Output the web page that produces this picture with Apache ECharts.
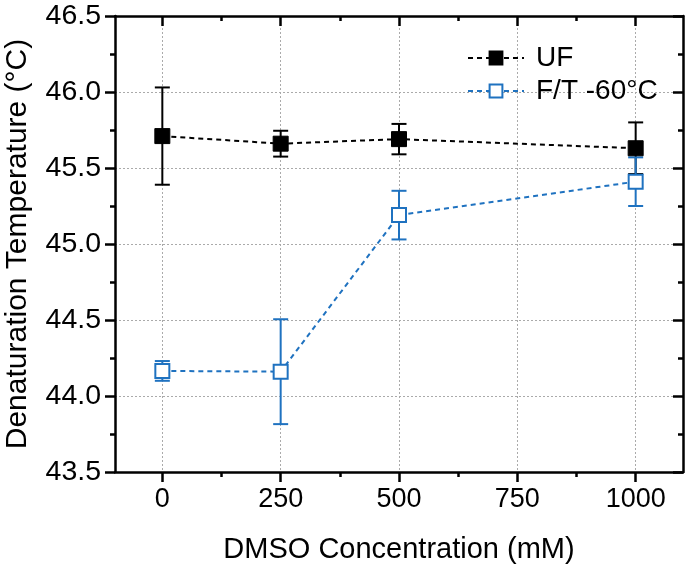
<!DOCTYPE html>
<html><head><meta charset="utf-8">
<script src="https://cdn.jsdelivr.net/npm/echarts@6/dist/echarts.min.js"></script>
<style>html,body{margin:0;padding:0;background:#fff}#c{width:690px;height:566px}</style>
</head><body><div id="c"></div>
<script>
var concentrations = [0, 250, 500, 750, 1000];
var xMajorTicks = [0, 250, 500, 750, 1000];
var xMinorTicks = [125, 375, 625, 875];
var dataX = [0, 250, 500, 1000];
var ufValues = [45.71, 45.66, 45.69, 45.63];
var ufErrors = [0.32, 0.085, 0.10, 0.17];
var ftValues = [44.165, 44.16, 45.19, 45.41];
var ftErrors = [0.065, 0.345, 0.16, 0.16];
var seriesNames = ['UF', 'F/T -60°C'];
var xTitle = 'DMSO Concentration (mM)';
var yTitle = 'Denaturation Temperature (°C)';

var FONT = 'Liberation Sans, Arial, sans-serif';
var BLUE = '#1f72c0';

function pairs(xs, ys){ return xs.map(function(x,i){return [x, ys[i]];}); }
function errData(xs, ys, es){ return xs.map(function(x,i){return [x, ys[i]-es[i], ys[i]+es[i]];}); }
function errSeries(data, color){
  return {
    type:'custom', xAxisIndex:0, yAxisIndex:0, data:data, z:1, silent:true,
    renderItem:function(params, api){
      var lo = api.coord([api.value(0), api.value(1)]);
      var hi = api.coord([api.value(0), api.value(2)]);
      var w = 7.5;
      var st = {stroke:color, lineWidth:2};
      return {type:'group', children:[
        {type:'line', shape:{x1:lo[0],y1:lo[1],x2:hi[0],y2:hi[1]}, style:st},
        {type:'line', shape:{x1:lo[0]-w,y1:lo[1],x2:lo[0]+w,y2:lo[1]}, style:st},
        {type:'line', shape:{x1:hi[0]-w,y1:hi[1],x2:hi[0]+w,y2:hi[1]}, style:st}
      ]};
    }
  };
}

var axisLine = {show:true, onZero:false, lineStyle:{color:'#000', width:2.5}};
var chart = echarts.init(document.getElementById('c'));
chart.setOption({
  animation:false,
  backgroundColor:'#fff',
  grid:{left:115, right:7, top:16, bottom:94, containLabel:false, outerBoundsMode:'none'},
  legend:{
    orient:'vertical', left:462, top:39, itemWidth:56, itemHeight:16, itemGap:5,
    data:seriesNames,
    textStyle:{fontFamily:FONT, fontSize:28, color:'#000', padding:[0,0,0,7]}
  },
  xAxis:[
    {type:'value', min:-100, max:1100, position:'bottom',
     name:xTitle, nameLocation:'middle', nameGap:63,
     nameTextStyle:{fontFamily:FONT, fontSize:29, color:'#000'},
     axisLine:axisLine,
     axisTick:{show:true, inside:false, length:10, customValues:xMajorTicks, lineStyle:{color:'#000', width:2.5}},
     axisLabel:{show:true, margin:14, customValues:xMajorTicks, fontFamily:FONT, fontSize:27, color:'#000',
       formatter:function(v){return String(v);}},
     splitLine:{show:true, lineStyle:{color:'#aaa', width:1, type:[2,2]}}},
    {type:'value', min:-100, max:1100, position:'bottom',
     axisLine:{show:false, onZero:false},
     axisTick:{show:true, inside:false, length:5, customValues:xMinorTicks, lineStyle:{color:'#000', width:2.5}},
     axisLabel:{show:false}, splitLine:{show:false}},
    {type:'value', min:-100, max:1100, position:'top',
     axisLine:axisLine,
     axisTick:{show:true, inside:true, length:10, customValues:xMajorTicks, lineStyle:{color:'#000', width:2.5}},
     axisLabel:{show:false}, splitLine:{show:false}},
    {type:'value', min:-100, max:1100, position:'top',
     axisLine:{show:false, onZero:false},
     axisTick:{show:true, inside:true, length:5, customValues:xMinorTicks, lineStyle:{color:'#000', width:2.5}},
     axisLabel:{show:false}, splitLine:{show:false}}
  ],
  yAxis:[
    {type:'value', min:43.5, max:46.5, interval:0.5, position:'left',
     name:yTitle, nameLocation:'middle', nameGap:82,
     nameTextStyle:{fontFamily:FONT, fontSize:30, color:'#000'},
     axisLine:axisLine,
     axisTick:{show:true, inside:false, length:10, lineStyle:{color:'#000', width:2.5}},
     minorTick:{show:true, splitNumber:2, length:5, lineStyle:{color:'#000', width:2.5}},
     axisLabel:{show:true, margin:14, fontFamily:FONT, fontSize:28.5, color:'#000',
       formatter:function(v){return v.toFixed(1);}},
     splitLine:{show:true, lineStyle:{color:'#aaa', width:1, type:[2,2]}}},
    {type:'value', min:43.5, max:46.5, interval:0.5, position:'right',
     axisLine:axisLine,
     axisTick:{show:true, inside:true, length:10, lineStyle:{color:'#000', width:2.5}},
     minorTick:{show:true, splitNumber:2, length:5, lineStyle:{color:'#000', width:2.5}},
     axisLabel:{show:false}, splitLine:{show:false}}
  ],
  series:[
    errSeries(errData(dataX, ufValues, ufErrors), '#000'),
    errSeries(errData(dataX, ftValues, ftErrors), BLUE),
    {name:seriesNames[0], type:'line', xAxisIndex:0, yAxisIndex:0, z:3,
     data:pairs(dataX, ufValues), symbol:'rect', symbolSize:15, color:'#000',
     lineStyle:{color:'#000', width:2, type:[5,4]},
     itemStyle:{color:'#000', borderColor:'#000', borderWidth:1}},
    {name:seriesNames[1], type:'line', xAxisIndex:0, yAxisIndex:0, z:3,
     data:pairs(dataX, ftValues), symbol:'rect', symbolSize:14, color:BLUE,
     lineStyle:{color:BLUE, width:2, type:[5,4]},
     itemStyle:{color:'#fff', borderColor:BLUE, borderWidth:2}}
  ]
});
</script></body></html>
